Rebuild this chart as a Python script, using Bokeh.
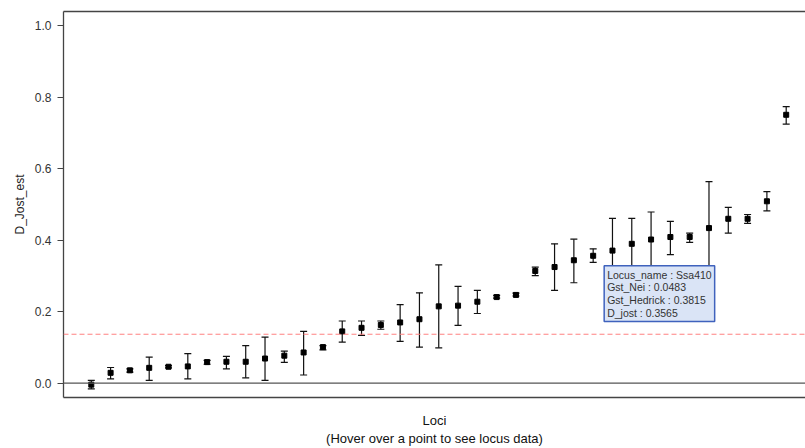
from bokeh.plotting import figure
from bokeh.models import (Range1d, Span, Whisker, ColumnDataSource, FixedTicker,
                          LinearAxis, Label, TeeHead, PrintfTickFormatter)
from bokeh.embed import file_html
from bokeh.resources import INLINE

# ---- data ----
loci = list(range(1, 38))
d_jost_est = [-0.004, 0.029, 0.036, 0.043, 0.046, 0.047, 0.059, 0.060, 0.060, 0.069,
              0.077, 0.086, 0.101, 0.145, 0.155, 0.163, 0.170, 0.179, 0.215, 0.217,
              0.228, 0.241, 0.247, 0.314, 0.325, 0.344, 0.3565, 0.371, 0.390, 0.402,
              0.409, 0.409, 0.434, 0.460, 0.460, 0.509, 0.751]
ci_lower = [-0.016, 0.012, 0.031, 0.008, 0.043, 0.012, 0.053, 0.040, 0.015, 0.008,
            0.058, 0.023, 0.093, 0.115, 0.134, 0.151, 0.117, 0.101, 0.099, 0.162,
            0.195, 0.238, 0.244, 0.301, 0.260, 0.281, 0.338, 0.281, 0.319, 0.325,
            0.360, 0.394, 0.304, 0.420, 0.447, 0.482, 0.725]
ci_upper = [0.008, 0.044, 0.040, 0.073, 0.049, 0.083, 0.064, 0.075, 0.105, 0.129,
            0.090, 0.145, 0.105, 0.174, 0.174, 0.174, 0.220, 0.253, 0.331, 0.271,
            0.260, 0.246, 0.252, 0.325, 0.390, 0.403, 0.376, 0.461, 0.461, 0.479,
            0.453, 0.420, 0.564, 0.492, 0.472, 0.536, 0.774]
y_ticks = [0.0, 0.2, 0.4, 0.6, 0.8, 1.0]
threshold = 0.137
x_title = "Loci\n(Hover over a point to see locus data)"
y_title = "D_Jost_est"

# tooltip shown in the reference (hovered locus)
hover_index = 27
hover_name = "Ssa410"
hover_gst_nei = 0.0483
hover_gst_hedrick = 0.3815
hover_d_jost = 0.3565

src = ColumnDataSource(dict(x=loci, y=d_jost_est, lower=ci_lower, upper=ci_upper))

FONT = "Liberation Sans"
AX = "#444444"
X0, X1 = -0.44, 38.0
Y0, Y1 = -0.04, 1.04

p = figure(width=805, height=448, output_backend="svg", toolbar_location=None,
           x_range=Range1d(X0, X1), y_range=Range1d(Y0, Y1),
           x_axis_location=None, y_axis_location=None,
           min_border_left=63, min_border_right=0, min_border_top=11, min_border_bottom=51)
p.outline_line_color = None
p.grid.visible = False
p.background_fill_color = "white"
p.border_fill_color = "white"

# left axis
yax = LinearAxis(ticker=FixedTicker(ticks=y_ticks), axis_label=y_title,
                 formatter=PrintfTickFormatter(format="%.1f"))
yax.axis_line_color = AX
yax.axis_line_width = 1.3
yax.major_tick_line_color = AX
yax.major_tick_out = 6
yax.major_tick_in = 0
yax.minor_tick_line_color = None
yax.major_label_text_font = FONT
yax.major_label_text_font_size = "12px"
yax.major_label_text_color = "#333333"
yax.major_label_standoff = 6
yax.axis_label_text_font = FONT
yax.axis_label_text_font_size = "12px"
yax.axis_label_text_font_style = "normal"
yax.axis_label_text_color = "#222222"
yax.axis_label_standoff = 5
p.add_layout(yax, "left")

# bottom frame line + two-line title
xax = LinearAxis(ticker=FixedTicker(ticks=[]), axis_label=x_title)
xax.axis_line_color = AX
xax.axis_line_width = 1.3
xax.major_tick_line_color = None
xax.minor_tick_line_color = None
xax.major_label_text_font_size = "0px"
xax.axis_label_text_font = FONT
xax.axis_label_text_font_size = "13px"
xax.axis_label_text_font_style = "normal"
xax.axis_label_text_color = "#111111"
xax.axis_label_standoff = 15
p.add_layout(xax, "below")

# top frame line
tax = LinearAxis(ticker=FixedTicker(ticks=[]))
tax.axis_line_color = AX
tax.axis_line_width = 1.3
tax.major_tick_line_color = None
tax.minor_tick_line_color = None
tax.major_label_text_font_size = "0px"
p.add_layout(tax, "above")

# reference lines
p.add_layout(Span(location=0, dimension="width", line_color="#555555", line_width=1.2))
p.add_layout(Span(location=threshold, dimension="width", line_color="#ff8080",
                  line_width=1.0, line_dash="5 3"))

# error bars
w = Whisker(source=src, base="x", lower="lower", upper="upper",
            line_color="#111111", line_width=1.2,
            upper_head=TeeHead(size=7, line_color="#111111", line_width=1.2),
            lower_head=TeeHead(size=7, line_color="#111111", line_width=1.2))
p.add_layout(w)

p.scatter("x", "y", source=src, marker="square", size=5, color="black")

# static tooltip as in the reference screenshot
tip = Label(x=loci[hover_index - 1], y=d_jost_est[hover_index - 1],
            x_offset=11, y_offset=-10,
            text=(f"Locus_name : {hover_name}\nGst_Nei : {hover_gst_nei}\n"
                  f"Gst_Hedrick : {hover_gst_hedrick}\nD_jost : {hover_d_jost}"),
            text_font=FONT, text_font_size="10.5px", text_color="#333333",
            text_align="left", text_baseline="top", text_line_height=1.05,
            background_fill_color="#dae4f6", border_line_color="#3f62bd",
            border_line_width=1.5, padding=3)
p.add_layout(tip)

open("out.html", "w").write(file_html(p, INLINE))
